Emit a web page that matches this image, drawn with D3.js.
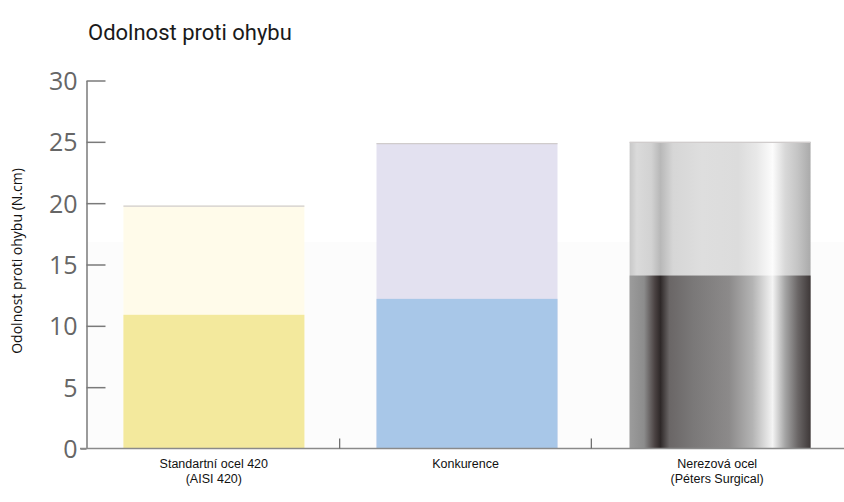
<!DOCTYPE html>
<html>
<head>
<meta charset="utf-8">
<script src="https://cdn.jsdelivr.net/npm/d3@7"></script>
<style>
  html, body { margin: 0; padding: 0; background: #ffffff; }
  svg { display: block; }
</style>
</head>
<body>
<svg id="chart" width="844" height="502"></svg>
<script>
// ---- data ----
const title = "Odolnost proti ohybu";
const yAxisTitle = "Odolnost proti ohybu (N.cm)";
const categories = ["Standartní ocel 420|(AISI 420)", "Konkurence", "Nerezová ocel|(Péters Surgical)"];
const upperValues = [19.8, 24.9, 25.0];
const lowerValues = [10.9, 12.2, 14.1];
const yTicks = [0, 5, 10, 15, 20, 25, 30];

(function () {
const svg = d3.select("#chart");
const W = 844, H = 502;
const mLeft = 88, mRight = 843, mTop = 80.5, mBottom = 448.5;

const x = d3.scaleBand().domain(categories).range([mLeft, mRight]).paddingInner(0).paddingOuter(0);
const xb = d3.scaleBand().domain(categories).range([mLeft, 846]).paddingInner(0.285).paddingOuter(0.14);
const y = d3.scaleLinear().domain([0, 30]).range([mBottom, mTop]);

// subtle background shade
svg.append("rect").attr("x", 88).attr("y", 242).attr("width", W - 88).attr("height", mBottom - 242)
  .attr("fill", "#fcfcfc");

// gradients for the metal bar
const defs = svg.append("defs");
function grad(id, stops) {
  const g = defs.append("linearGradient").attr("id", id).attr("x1", "0").attr("x2", "1").attr("y1", "0").attr("y2", "0");
  stops.forEach(s => g.append("stop").attr("offset", s[0]).attr("stop-color", s[1]));
}
grad("metalTop", [[0, "#c8c8c8"], [0.04, "#dadada"], [0.12, "#d2d2d2"], [0.17, "#b8b8b8"], [0.24, "#d6d6d6"], [0.4, "#dedede"], [0.6, "#dcdcdc"], [0.7, "#e8e8e8"], [0.79, "#fcfcfc"], [0.86, "#d8d8d8"], [0.93, "#c4c4c4"], [1, "#aaaaaa"]]);
grad("metalBottom", [[0, "#9c9c9c"], [0.08, "#8c8c8c"], [0.14, "#4a4242"], [0.17, "#2e2828"], [0.22, "#6a6666"], [0.35, "#7a7878"], [0.55, "#8c8a8a"], [0.68, "#b4b4b4"], [0.79, "#f4f4f4"], [0.86, "#a4a4a4"], [0.93, "#6a6666"], [1, "#3e3838"]]);

const topFills = ["#fffbea", "#e3e1f0", "url(#metalTop)"];
const lowFills = ["#f3e99d", "#a8c7e8", "url(#metalBottom)"];

// bars: upper (total) part
svg.append("g").selectAll("rect").data(categories).join("rect")
  .attr("x", d => xb(d)).attr("width", xb.bandwidth())
  .attr("y", (d, i) => y(upperValues[i])).attr("height", (d, i) => y(0) - y(upperValues[i]))
  .attr("fill", (d, i) => topFills[i]);
// top edge line
svg.append("g").selectAll("line").data(categories).join("line")
  .attr("x1", d => xb(d)).attr("x2", d => xb(d) + xb.bandwidth())
  .attr("y1", (d, i) => y(upperValues[i]) + 0.5).attr("y2", (d, i) => y(upperValues[i]) + 0.5)
  .attr("stroke", "#d0cccc").attr("stroke-width", 1.2);
// lower part
svg.append("g").selectAll("rect").data(categories).join("rect")
  .attr("x", d => xb(d)).attr("width", xb.bandwidth())
  .attr("y", (d, i) => y(lowerValues[i])).attr("height", (d, i) => y(0) - y(lowerValues[i]))
  .attr("fill", (d, i) => lowFills[i]);

// y axis
const yAxis = d3.axisLeft(y).tickValues(yTicks).tickSizeInner(-19).tickSizeOuter(0).tickPadding(9);
const gy = svg.append("g").attr("transform", `translate(${86.5},0)`).call(yAxis);
gy.select(".domain").attr("stroke", "#7a7a7a").attr("stroke-width", 1.5);
gy.selectAll(".tick line").attr("stroke", "#7a7a7a").attr("stroke-width", 1.5);
gy.selectAll(".tick text").attr("fill", "#666").attr("font-family", "'Open Sans', sans-serif")
  .attr("font-size", 25).attr("dy", "0.36em");
gy.selectAll(".tick").filter(d => d === 0).select("line").attr("x1", -6).attr("x2", 0);

// x baseline and separators
svg.append("line").attr("x1", 80).attr("x2", W).attr("y1", mBottom).attr("y2", mBottom)
  .attr("stroke", "#8a8a8a").attr("stroke-width", 1.5);
svg.append("g").selectAll("line").data(categories.slice(1)).join("line")
  .attr("x1", d => x(d)).attr("x2", d => x(d)).attr("y1", mBottom - 10).attr("y2", mBottom)
  .attr("stroke", "#666").attr("stroke-width", 1.2);

// category labels
const lbl = svg.append("g").selectAll("text").data(categories).join("text")
  .attr("x", d => x(d) + x.bandwidth() / 2).attr("y", 468)
  .attr("text-anchor", "middle").attr("font-family", "'Liberation Sans', Arial, sans-serif")
  .attr("font-size", 12.5).attr("fill", "#111");
lbl.each(function(d) {
  const parts = d.split("|");
  d3.select(this).selectAll("tspan").data(parts).join("tspan")
    .attr("x", x(d) + x.bandwidth() / 2).attr("dy", (p, i) => i === 0 ? 0 : 14.5).text(p => p);
});

// title
svg.append("text").attr("x", 88).attr("y", 40).attr("font-family", "Roboto, sans-serif")
  .attr("font-size", 22).attr("fill", "#1a1a1a").text(title);

// y axis title
svg.append("text").attr("transform", `translate(22,${261}) rotate(-90)`).attr("text-anchor", "middle")
  .attr("font-family", "'Open Sans', Arial, sans-serif").attr("font-size", 14).attr("fill", "#111")
  .text(yAxisTitle);
})();
</script>
</body>
</html>
